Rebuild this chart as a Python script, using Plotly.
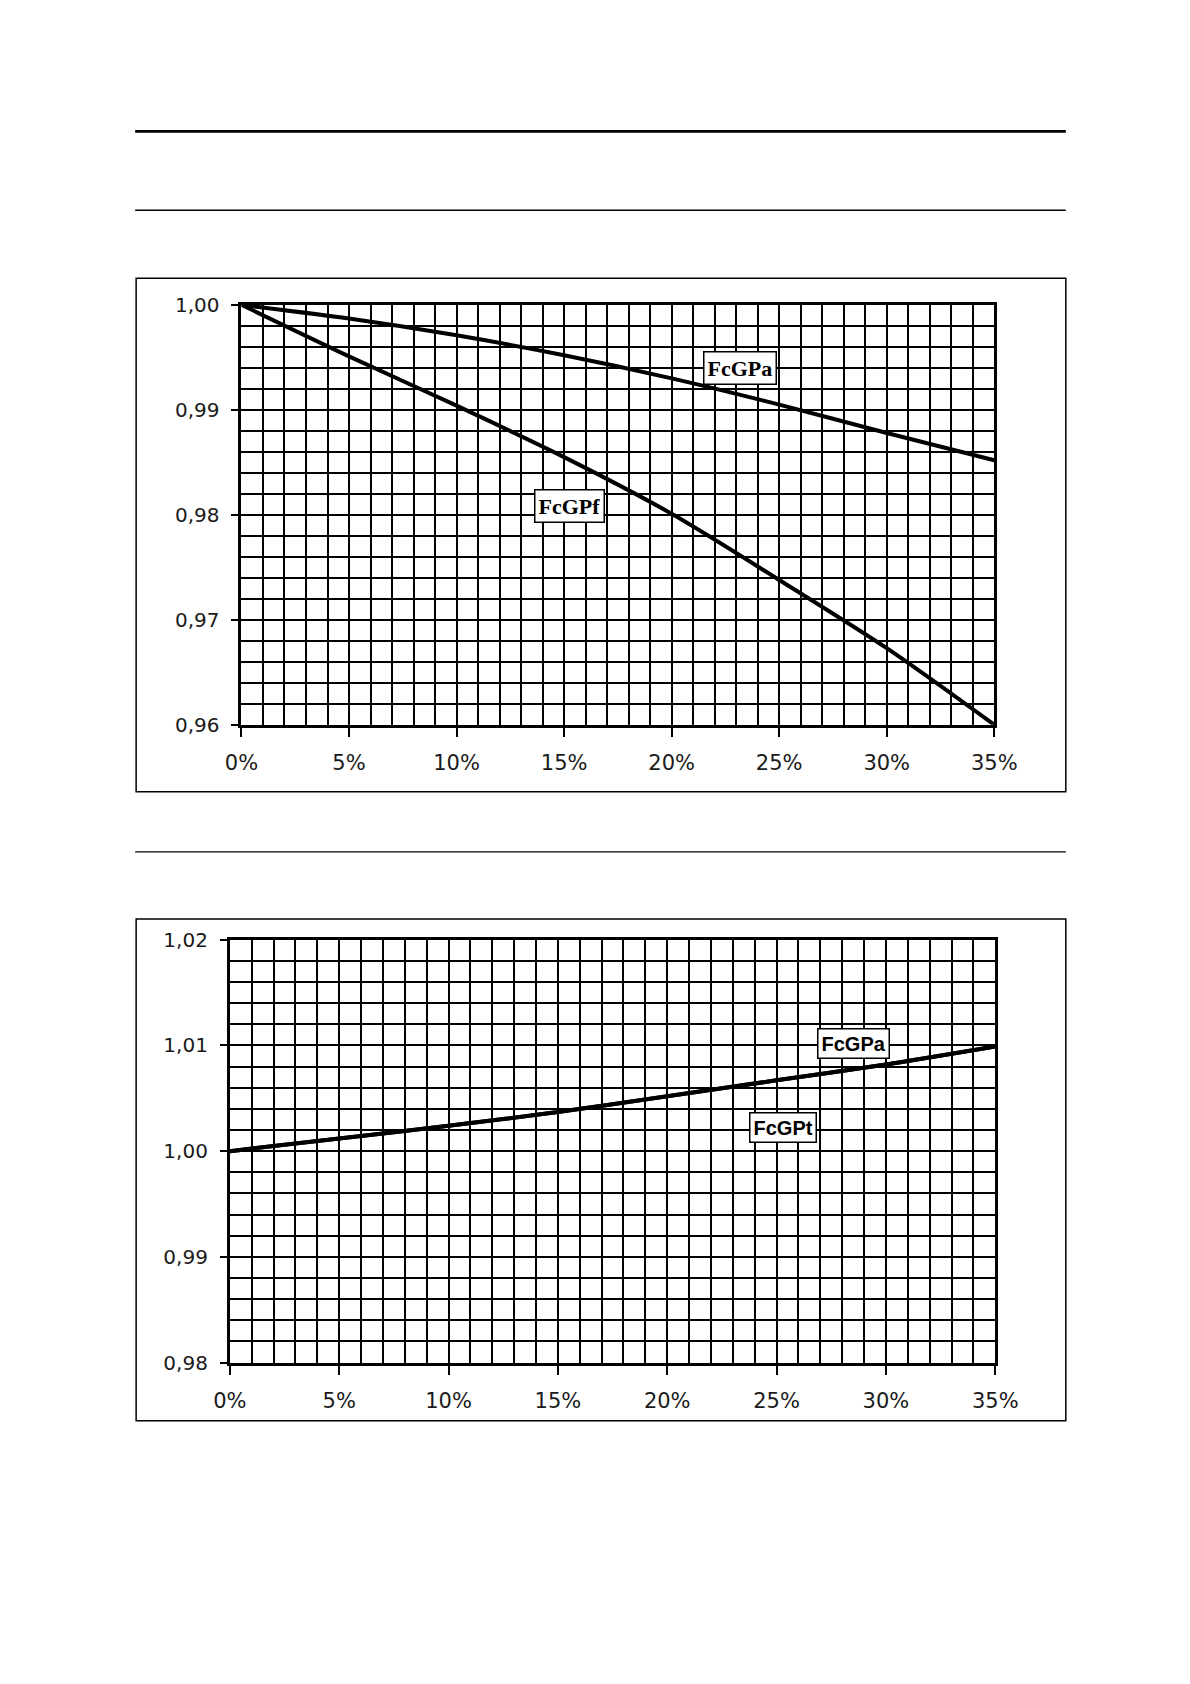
import plotly.graph_objects as go

# ---- data ----
pct_1 = [0, 5, 10, 15, 20, 25, 30, 35]
fcgpa_1 = [1.000, 0.9987, 0.9971, 0.9952, 0.9930, 0.9905, 0.9878, 0.9852]
fcgpf_1 = [1.000, 0.9951, 0.9904, 0.9855, 0.9801, 0.9738, 0.9673, 0.9600]

pct_2 = [0, 5, 10, 15, 20, 25, 30, 35]
fcgpa_2 = [1.000, 1.0012, 1.0024, 1.0037, 1.0052, 1.0067, 1.0082, 1.0099]
fcgpt_2 = [1.000, 1.0012, 1.0024, 1.0037, 1.0052, 1.0067, 1.0082, 1.0099]

x_range = [0, 35]
y_range_1 = [0.96, 1.00]
y_range_2 = [0.98, 1.02]

W, H = 1190, 1684
def px(x): return x / W
def py(y): return 1 - y / H

fig = go.Figure()
line_style = dict(color="black", width=4, shape="spline", smoothing=0.8)
fig.add_trace(go.Scatter(x=pct_1, y=fcgpa_1, mode="lines", line=line_style, xaxis="x", yaxis="y", name="FcGPa"))
fig.add_trace(go.Scatter(x=pct_1, y=fcgpf_1, mode="lines", line=line_style, xaxis="x", yaxis="y", name="FcGPf"))
fig.add_trace(go.Scatter(x=pct_2, y=fcgpa_2, mode="lines", line=line_style, xaxis="x2", yaxis="y2", name="FcGPa"))
fig.add_trace(go.Scatter(x=pct_2, y=fcgpt_2, mode="lines", line=line_style, xaxis="x2", yaxis="y2", name="FcGPt"))

tick_font = dict(family="DejaVu Sans", size=20, color="#1a1a1a")
xtick_font = dict(family="DejaVu Sans", size=21, color="#1a1a1a")

def xaxis(domain, anchor):
    return dict(domain=domain, anchor=anchor, range=x_range, dtick=5, tick0=0,
                ticksuffix="%", tickformat="d", showgrid=True, gridcolor="black", gridwidth=2,
                minor=dict(dtick=1, showgrid=True, gridcolor="black", gridwidth=2, ticks=""),
                ticks="outside", ticklen=9, tickwidth=2, tickcolor="black",
                showline=True, linecolor="black", linewidth=3, mirror=True,
                zeroline=False, tickfont=xtick_font, ticklabelstandoff=8, fixedrange=True)

def yaxis(domain, anchor, rng):
    return dict(domain=domain, anchor=anchor, range=rng, dtick=0.01, tick0=rng[0],
                tickformat=".2f", showgrid=True, gridcolor="black", gridwidth=2,
                minor=dict(dtick=0.002, showgrid=True, gridcolor="black", gridwidth=2, ticks=""),
                ticks="outside", ticklen=7, tickwidth=2, tickcolor="black",
                showline=True, linecolor="black", linewidth=3, mirror=True,
                zeroline=False, tickfont=tick_font, ticklabelstandoff=8, fixedrange=True)

fig.update_layout(
    width=W, height=H, margin=dict(l=0, r=0, t=0, b=0),
    paper_bgcolor="white", plot_bgcolor="white", showlegend=False,
    separators=",.",
    xaxis=xaxis([px(224), px(1003)], "y"),
    yaxis=yaxis([py(715), py(289)], "x", y_range_1),
    xaxis2=xaxis([px(212), px(1004)], "y2"),
    yaxis2=yaxis([py(1362), py(933)], "x2", y_range_2),
)

shapes = [
    dict(type="line", xref="paper", yref="paper", x0=px(114), x1=px(1077), y0=py(113), y1=py(113),
         line=dict(color="black", width=2.8)),
    dict(type="line", xref="paper", yref="paper", x0=px(114), x1=px(1077), y0=py(193), y1=py(193),
         line=dict(color="black", width=1.3)),
    dict(type="line", xref="paper", yref="paper", x0=px(114), x1=px(1077), y0=py(844), y1=py(844),
         line=dict(color="black", width=1.3)),
    dict(type="rect", xref="paper", yref="paper", x0=px(115), x1=px(1077), y0=py(783), y1=py(262),
         line=dict(color="black", width=1.5), layer="below"),
    dict(type="rect", xref="paper", yref="paper", x0=px(115), x1=px(1077), y0=py(1421), y1=py(912),
         line=dict(color="black", width=1.5), layer="below"),
]
fig.update_layout(shapes=shapes)

serif_lbl = dict(family="Liberation Serif", size=22, color="black")
sans_lbl = dict(family="Liberation Sans", size=20, color="black")
ann = [
    dict(x=23.16, y=0.99398, xref="x", yref="y", text="<b>FcGPa</b>", font=serif_lbl),
    dict(x=15.27, y=0.9808, xref="x", yref="y", text="<b>FcGPf</b>", font=serif_lbl),
    dict(x=28.5, y=1.0102, xref="x2", yref="y2", text="<b>FcGPa</b>", font=sans_lbl),
    dict(x=25.3, y=1.0022, xref="x2", yref="y2", text="<b>FcGPt</b>", font=sans_lbl),
]
for a in ann:
    a.update(showarrow=False, bgcolor="white", bordercolor="black", borderwidth=1.5, borderpad=3)
fig.update_layout(annotations=ann)

fig.write_html("out.html")
